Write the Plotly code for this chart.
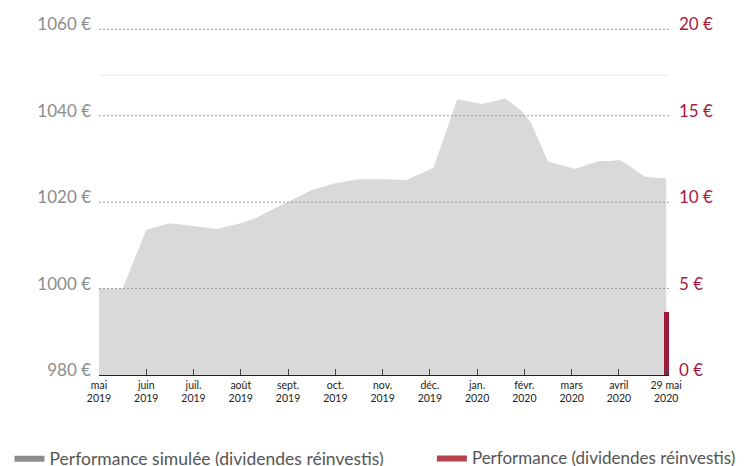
import plotly.graph_objects as go

# ---- data ----
month_labels = ["mai<br>2019", "juin<br>2019", "juil.<br>2019", "août<br>2019", "sept.<br>2019",
                "oct.<br>2019", "nov.<br>2019", "déc.<br>2019", "jan.<br>2020", "févr.<br>2020",
                "mars<br>2020", "avril<br>2020", "29 mai<br>2020"]
month_pos = list(range(13))

# simulated performance (month index, value in €)
sim_x = [0, 0.5, 1.0, 1.5, 2.5, 3.0, 3.3, 3.5, 4.0, 4.5, 5.0, 5.5, 6.0, 6.5, 6.85, 7.08,
         7.58, 8.1, 8.6, 8.92, 9.13, 9.5, 9.76, 10.08, 10.36, 10.6, 10.85, 11.0, 11.17, 11.55, 12.0]
sim_y = [1000, 1000, 1013.6, 1015.1, 1013.8, 1015.1, 1016.2, 1017.4, 1020.1, 1022.8, 1024.4,
         1025.3, 1025.3, 1025.1, 1026.8, 1028.0, 1043.8, 1042.7, 1044.0, 1041.3, 1038.6,
         1029.4, 1028.6, 1027.7, 1028.8, 1029.5, 1029.5, 1029.8, 1028.8, 1025.9, 1025.5]

# performance (dividends reinvested) bar, right axis
perf_x = [12]
perf_y = [3.65]

left_ticks = [980, 1000, 1020, 1040, 1060]
left_text = ["980 €", "1000 €", "1020 €", "1040 €", "1060 €"]
right_ticks = [0, 5, 10, 15, 20]
right_text = ["0 €", "5 €", "10 €", "15 €", "20 €"]

FONT = "Lato, Open Sans, sans-serif"
GREY_TXT = "#8c8c8c"
RED_TXT = "#a8183f"

fig = go.Figure()

fig.add_trace(go.Scatter(x=sim_x, y=sim_y, mode="lines", fill="tozeroy",
                         fillcolor="#d9d9d9", line=dict(width=0, color="#d9d9d9"),
                         showlegend=False, hoverinfo="skip"))
fig.add_trace(go.Bar(x=perf_x, y=perf_y, width=0.1, marker=dict(color="#9e1a3c", line=dict(width=0)),
                     yaxis="y2", showlegend=False))

# legend entries
fig.add_trace(go.Scatter(x=[None], y=[None], mode="lines", fill="tozeroy", fillcolor="#8c8c8c",
                         line=dict(width=0, color="#8c8c8c"), legend="legend",
                         name="Performance simulée (dividendes réinvestis)"))
fig.add_trace(go.Scatter(x=[None], y=[None], mode="lines", fill="tozeroy", fillcolor="#b5434f",
                         line=dict(width=0, color="#b5434f"), yaxis="y2", legend="legend2",
                         name="Performance (dividendes réinvestis)"))

shapes = []
for v in left_ticks[1:]:
    shapes.append(dict(type="line", xref="paper", x0=0, x1=1, yref="y", y0=v, y1=v,
                       line=dict(color="#9a9a9a", width=1, dash="2px,2px"), layer="above"))
shapes.append(dict(type="line", xref="paper", x0=0, x1=1, yref="paper", y0=0.857, y1=0.857,
                   line=dict(color="#e8e8e8", width=1), layer="below"))

fig.update_layout(
    width=737, height=458,
    margin=dict(l=91, r=76, t=17, b=91, autoexpand=False),
    plot_bgcolor="white", paper_bgcolor="white",
    shapes=shapes,
    bargap=0,
    xaxis=dict(range=[0, 12.06], tickvals=month_pos, ticktext=month_labels,
               ticks="inside", ticklen=6, tickcolor="#444", tickwidth=1,
               showline=True, linecolor="#222", linewidth=1, showgrid=False, zeroline=False,
               tickfont=dict(family=FONT, size=10.5, color="#222"), layer="above traces"),
    yaxis=dict(range=[980, 1061], tickvals=left_ticks, ticktext=left_text,
               showgrid=False, zeroline=False, showline=False, ticks="",
               ticklabelstandoff=7, ticklabelshift=-5,
               tickfont=dict(family=FONT, size=17, color=GREY_TXT)),
    yaxis2=dict(range=[0, 20.25], tickvals=right_ticks, ticktext=right_text, overlaying="y",
                side="right", showgrid=False, zeroline=False, showline=False, ticks="",
                ticklabelstandoff=9, ticklabelshift=-5,
                tickfont=dict(family=FONT, size=17, color=RED_TXT)),
    legend=dict(orientation="h", x=-0.157, xanchor="left", y=-0.237, yanchor="middle",
                font=dict(family=FONT, size=17.5, color="#555"), bgcolor="rgba(0,0,0,0)"),
    legend2=dict(orientation="h", x=0.584, xanchor="left", y=-0.237, yanchor="middle",
                 font=dict(family=FONT, size=17, color="#555"), bgcolor="rgba(0,0,0,0)"),
)

fig.write_html("out.html")
